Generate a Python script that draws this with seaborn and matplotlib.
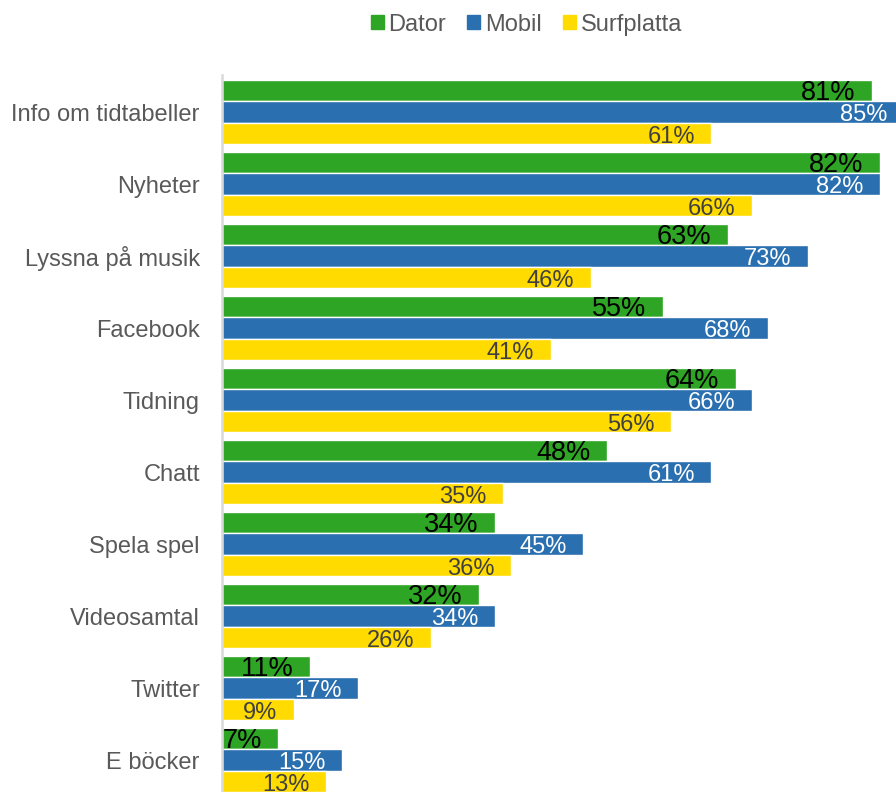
import seaborn as sns
import pandas as pd
import numpy as np
import matplotlib.pyplot as plt
from matplotlib.patches import Patch

kategorier = ["Info om tidtabeller", "Nyheter", "Lyssna på musik", "Facebook", "Tidning",
              "Chatt", "Spela spel", "Videosamtal", "Twitter", "E böcker"]
dator = [81, 82, 63, 55, 64, 48, 34, 32, 11, 7]
mobil = [85, 82, 73, 68, 66, 61, 45, 34, 17, 15]
surfplatta = [61, 66, 46, 41, 56, 35, 36, 26, 9, 13]
enheter = ["Dator", "Mobil", "Surfplatta"]
farger = ["#2ea524", "#2a6fb0", "#ffdb00"]

df = pd.DataFrame({"kategori": kategorier, "Dator": dator, "Mobil": mobil, "Surfplatta": surfplatta})
df = df.melt(id_vars="kategori", var_name="enhet", value_name="andel")

sns.set_style("white")
plt.rcParams["font.family"] = ["Liberation Sans", "DejaVu Sans"]

fig = plt.figure(figsize=(8.96, 7.92), dpi=100)
ax = fig.add_axes([0.2478, 0.0, 0.7522, 0.9053])

sns.barplot(data=df, x="andel", y="kategori", hue="enhet", hue_order=enheter,
            palette=farger, orient="h", width=0.89, gap=0, saturation=1,
            edgecolor="white", linewidth=1, errorbar=None, legend=False, ax=ax)

ax.set_xlim(0, 84)
ax.set_ylim(9.444, -0.514)
ax.set_xticks([])
ax.set_xlabel("")
ax.set_ylabel("")
for s in ["top", "right", "bottom"]:
    ax.spines[s].set_visible(False)
ax.spines["left"].set_color("#d9d9d9")
ax.spines["left"].set_linewidth(1.8)
ax.tick_params(axis="y", length=0, pad=16, labelsize=17, labelcolor="#595959")

# data labels, inside end of each bar
textfarg = ["black", "white", "#404040"]
storlek = [19.5, 17, 17]
for cont, c, fs in zip(ax.containers, textfarg, storlek):
    for bar in cont:
        v = bar.get_width()
        ax.annotate(f"{v:.0f}%", (v, bar.get_y() + bar.get_height() / 2),
                    xytext=(-12, -6.7), textcoords="offset points",
                    ha="right", va="baseline", color=c, fontsize=fs,
                    annotation_clip=False)

handles = [Patch(color=c) for c in farger]
fig.legend(handles, enheter, loc="center", bbox_to_anchor=(0.5876, 0.969), ncol=3,
           frameon=False, fontsize=17, handlelength=0.55, handleheight=0.55,
           handletextpad=0.2, columnspacing=0.9, labelcolor="#595959")

plt.savefig("out.png", dpi=100)
